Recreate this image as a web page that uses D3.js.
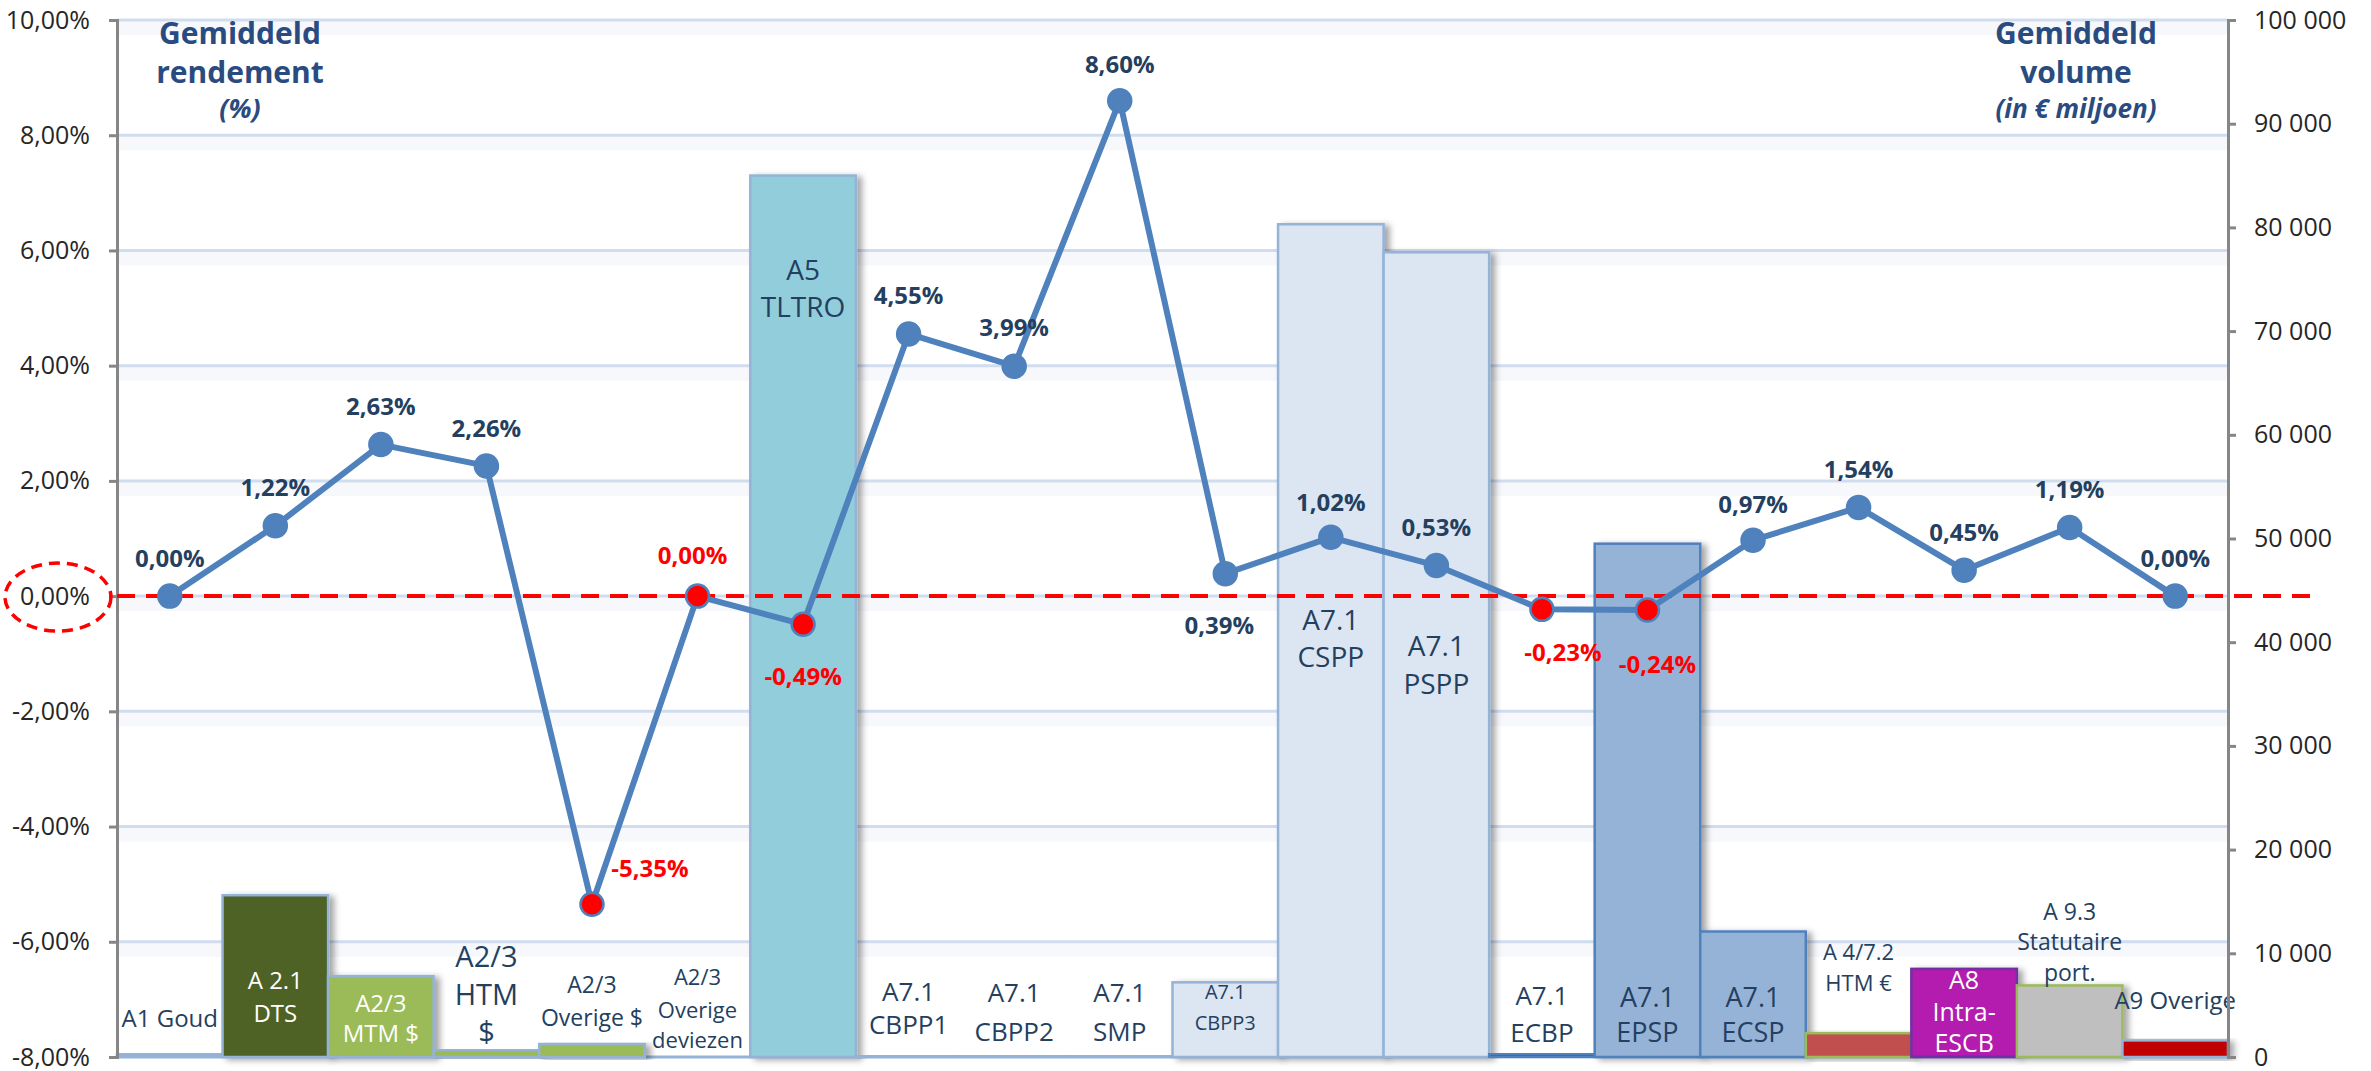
<!DOCTYPE html>
<html>
<head>
<meta charset="utf-8">
<script src="https://cdn.jsdelivr.net/npm/d3@7"></script>
<style>
  body { margin: 0; background: #fff; }
  svg { display: block; font-family: "Open Sans", "DejaVu Sans", sans-serif; }
</style>
</head>
<body>
<svg width="2371" height="1071"></svg>
<script>
// categories (label lines)
var categories = [
  ["A1 Goud"], ["A 2.1", "DTS"], ["A2/3", "MTM $"], ["A2/3", "HTM", "$"],
  ["A2/3", "Overige $"], ["A2/3", "Overige", "deviezen"], ["A5", "TLTRO"],
  ["A7.1", "CBPP1"], ["A7.1", "CBPP2"], ["A7.1", "SMP"], ["A7.1", "CBPP3"],
  ["A7.1", "CSPP"], ["A7.1", "PSPP"], ["A7.1", "ECBP"], ["A7.1", "EPSP"],
  ["A7.1", "ECSP"], ["A 4/7.2", "HTM €"], ["A8", "Intra-", "ESCB"],
  ["A 9.3", "Statutaire", "port."], ["A9 Overige"]
];
// gemiddeld rendement (%)
var rendement = [0.00, 1.22, 2.63, 2.26, -5.35, 0.00, -0.49, 4.55, 3.99, 8.60,
  0.39, 1.02, 0.53, -0.23, -0.24, 0.97, 1.54, 0.45, 1.19, 0.00];
// gemiddeld volume (EUR mln)
var volume = [300, 15600, 7800, 700, 1250, 0, 85000, 150, 150, 150,
  7200, 80300, 77600, 300, 49500, 12100, 2300, 8500, 6900, 1600];
// points shown in red
var highlight = [4, 5, 6, 13, 14];
var leftTicks = [-8, -6, -4, -2, 0, 2, 4, 6, 8, 10];
var rightTicks = [0, 10000, 20000, 30000, 40000, 50000, 60000, 70000, 80000, 90000, 100000];

// styles
var barFill = ["#95b3d7", "#4f6228", "#9bbb59", "#9bbb59", "#9bbb59", "#9bbb59", "#92cddc",
  "#95b3d7", "#95b3d7", "#95b3d7", "#dce6f2", "#dce6f2", "#dce6f2", "#366092", "#95b3d7",
  "#95b3d7", "#c0504d", "#b31aae", "#bfbfbf", "#c00000"];
var barStroke = ["#95b3d7", "#95b3d7", "#95b3d7", "#95b3d7", "#95b3d7", "#95b3d7", "#95b3d7",
  "#95b3d7", "#95b3d7", "#95b3d7", "#95b3d7", "#95b3d7", "#95b3d7", "#4f81bd", "#4f81bd",
  "#4f81bd", "#9bbb59", "#7030a0", "#9bbb59", "#95b3d7"];
// category label layout: font size, line centres, colour
var catLayout = [
  [24, [1018]], [24, [980, 1013], "#fff"], [24, [1003, 1033], "#fff"], [29, [957, 995, 1032]],
  [23, [985, 1018]], [22, [977, 1010, 1040]], [28, [270, 307]], [26, [992, 1025]],
  [26, [993, 1032]], [26, [993, 1032]], [20, [992, 1023]], [28, [620, 657]],
  [28, [646, 684]], [26, [996, 1033]], [27, [997, 1032]], [27, [997, 1032]],
  [22, [952, 983]], [25, [980, 1012, 1043], "#fff"], [23, [912, 942, 973]], [24, [1000]]
];
// value label offsets from point (centre)
var labelOffset = [[0, -38], [0, -38], [0, -38], [0, -38], [58, -36], [-5, -41], [0, 52],
  [0, -39], [0, -39], [0, -36], [-6, 52], [0, -35], [0, -38], [21, 43], [10, 54],
  [0, -36], [0, -38], [0, -38], [0, -38], [0, -38]];

var svg = d3.select("svg");
var plotLeft = 117, plotRight = 2228, plotTop = 20, plotBottom = 1057;

var loc = d3.formatLocale({decimal: ",", thousands: " ", grouping: [3], currency: ["", ""], minus: "-"});
var pct = function(v) { return loc.format(".2f")(v) + "%"; };
var vol = loc.format(",.0f");

var x = d3.scaleBand().domain(d3.range(categories.length)).range([plotLeft, plotRight]).padding(0);
var yL = d3.scaleLinear().domain([-8, 10]).range([plotBottom, plotTop]);
var yR = d3.scaleLinear().domain([0, 100000]).range([plotBottom, plotTop]);
var cx = function(i) { return x(i) + x.bandwidth() / 2; };

var defs = svg.append("defs");
var f = defs.append("filter").attr("id", "shadow").attr("x", "-10%").attr("y", "-10%").attr("width", "130%").attr("height", "130%");
f.append("feDropShadow").attr("dx", 5).attr("dy", 2).attr("stdDeviation", 3)
  .attr("flood-color", "#000").attr("flood-opacity", 0.35);

// grid lines
var grid = svg.append("g");
grid.selectAll("rect").data(leftTicks.filter(function(d) { return d > -8; })).join("rect")
  .attr("x", plotLeft).attr("width", plotRight - plotLeft)
  .attr("y", function(d) { return yL(d) + 1; }).attr("height", 14)
  .attr("fill", "#f6f8fb");
grid.selectAll("line").data(leftTicks).join("line")
  .attr("x1", plotLeft).attr("x2", plotRight)
  .attr("y1", function(d) { return yL(d); }).attr("y2", function(d) { return yL(d); })
  .attr("stroke", function(d) { return d === -8 ? "#95b3d7" : "#d0ddef"; })
  .attr("stroke-width", 3);

// bars
svg.append("g").selectAll("rect").data(volume).join("rect")
  .attr("x", function(d, i) { return x(i); })
  .attr("width", x.bandwidth())
  .attr("y", function(d) { return yR(d); })
  .attr("height", function(d) { return yR(0) - yR(d); })
  .attr("fill", function(d, i) { return barFill[i]; })
  .attr("stroke", function(d, i) { return barStroke[i]; })
  .attr("stroke-width", function(d) { return d > 0 ? 2.5 : 0; })
  .attr("filter", "url(#shadow)");

// category labels
var cl = svg.append("g").selectAll("text").data(categories).join("text")
  .attr("text-anchor", "middle")
  .attr("font-size", function(d, i) { return catLayout[i][0]; })
  .attr("fill", function(d, i) { return catLayout[i][2] || "#243f60"; });
cl.each(function(lines, i) {
  var t = d3.select(this);
  lines.forEach(function(s, k) {
    t.append("tspan").attr("x", cx(i)).attr("y", catLayout[i][1][k]).attr("dy", "0.36em").text(s);
  });
});

// axes
var axL = svg.append("g").attr("transform", "translate(" + plotLeft + ",0)")
  .call(d3.axisLeft(yL).tickValues(leftTicks).tickFormat(pct).tickSize(8).tickPadding(19));
var axR = svg.append("g").attr("transform", "translate(" + plotRight + ",0)")
  .call(d3.axisRight(yR).tickValues(rightTicks).tickFormat(vol).tickSize(8).tickPadding(18));
[axL, axR].forEach(function(a) {
  a.select(".domain").attr("stroke", "#868686").attr("stroke-width", 3);
  a.selectAll(".tick line").attr("stroke", "#868686").attr("stroke-width", 3);
  a.selectAll(".tick text").attr("font-size", 25).attr("fill", "#262626")
    .attr("font-family", "'Open Sans', sans-serif");
});

// zero reference line
svg.append("line")
  .attr("x1", plotLeft).attr("x2", 2313).attr("y1", yL(0)).attr("y2", yL(0))
  .attr("stroke", "#ff0000").attr("stroke-width", 4).attr("stroke-dasharray", "18,11");
svg.append("ellipse")
  .attr("cx", 58).attr("cy", yL(0) + 1).attr("rx", 53).attr("ry", 34)
  .attr("fill", "none").attr("stroke", "#ff0000").attr("stroke-width", 3.5)
  .attr("stroke-dasharray", "11,7");

// line series
var line = d3.line().x(function(d, i) { return cx(i); }).y(function(d) { return yL(d); });
svg.append("path").datum(rendement)
  .attr("d", line).attr("fill", "none")
  .attr("stroke", "#4f81bd").attr("stroke-width", 6).attr("stroke-linejoin", "round");

svg.append("g").selectAll("circle").data(rendement).join("circle")
  .attr("cx", function(d, i) { return cx(i); })
  .attr("cy", function(d) { return yL(d); })
  .attr("r", 11.5)
  .attr("fill", function(d, i) { return highlight.indexOf(i) >= 0 ? "#ff0000" : "#4f81bd"; })
  .attr("stroke", "#4f81bd").attr("stroke-width", 2.5);

svg.append("g").selectAll("text").data(rendement).join("text")
  .attr("x", function(d, i) { return cx(i) + labelOffset[i][0]; })
  .attr("y", function(d, i) { return yL(d) + labelOffset[i][1]; })
  .attr("dy", "0.36em")
  .attr("text-anchor", "middle")
  .attr("font-size", 24).attr("font-weight", "bold")
  .attr("fill", function(d, i) { return highlight.indexOf(i) >= 0 ? "#ff0000" : "#243f60"; })
  .text(pct);

// titles
function title(xc, lines) {
  var t = svg.append("text").attr("text-anchor", "middle").attr("font-weight", "bold");
  lines.forEach(function(l) {
    t.append("tspan").attr("x", xc).attr("y", l[1]).attr("font-size", l[2])
      .attr("font-style", l[3] ? "italic" : null).attr("fill", "#2a4b80").text(l[0]);
  });
}
title(240, [["Gemiddeld", 44, 30], ["rendement", 83, 30], ["(%)", 118, 27, true]]);
title(2076, [["Gemiddeld", 44, 30], ["volume", 83, 30], ["(in € miljoen)", 118, 26, true]]);
</script>
</body>
</html>
